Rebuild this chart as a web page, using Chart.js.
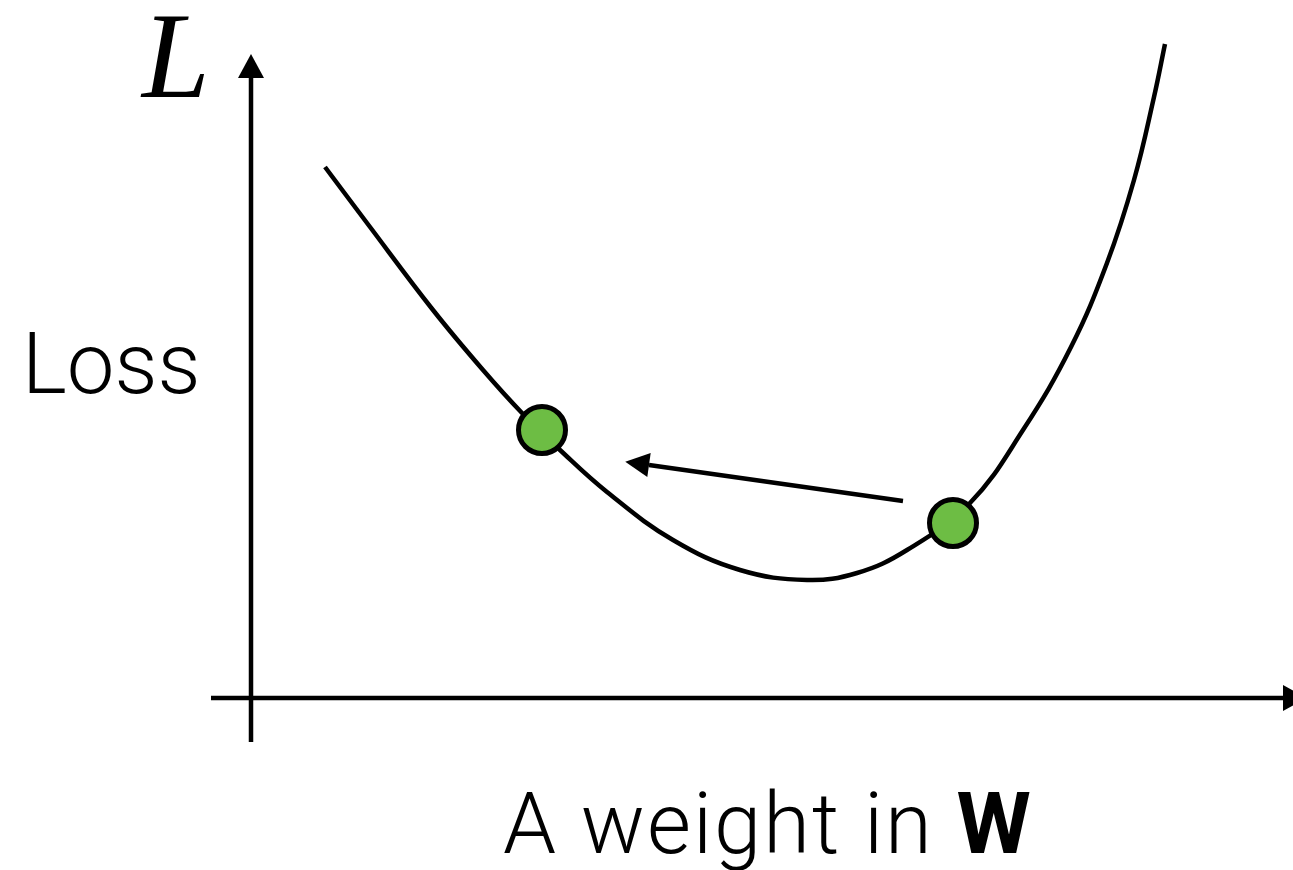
<!DOCTYPE html>
<html>
<head>
<meta charset="utf-8">
<script src="https://cdn.jsdelivr.net/npm/chart.js@4"></script>
<style>
  html, body { margin: 0; padding: 0; background: #fff; overflow: hidden; }
</style>
</head>
<body>
<canvas id="grafica_perdida" width="1293" height="870"></canvas>
<script>
//Datos (unidades arbitrarias, origen en el cruce de ejes)
const pesoX    = [0.74, 1.16, 1.82, 2.32, 2.71, 3.09, 3.56, 4.22, 4.89, 5.56, 6.06, 6.56, 7.19, 7.72, 8.20, 8.56, 8.83, 9.03, 9.14];
const perdidaY = [5.31, 4.75, 3.88, 3.28, 2.85, 2.48, 2.06, 1.58, 1.28, 1.18, 1.25, 1.48, 1.95, 2.68, 3.51, 4.35, 5.18, 6.01, 6.54];

//Los dos puntos verdes
const puntosX = [2.91, 7.02];
const puntosY = [2.68, 1.75];

//Flecha del paso (de derecha a izquierda, termina en la base de la punta)
const flechaX = [6.52, 3.98];
const flechaY = [1.97, 2.33];

//Ejes
const ejeHorizX = [-0.40, 10.32];
const ejeVertY  = [-0.44, 6.20];

const textoY = 'Loss';
const textoL = 'L';
const textoX = 'A weight in ';
const textoW = 'W';

const aPuntos = (xs, ys) => xs.map((x, i) => ({ x: x, y: ys[i] }));

//Plugin para puntas de flecha y textos
const puntasYTextos = {
  id: 'puntasYTextos',
  afterDatasetsDraw(chart) {
    const ctx = chart.ctx;
    chart.data.datasets.forEach((ds, i) => {
      if (!ds.punta) return;
      const pts = chart.getDatasetMeta(i).data;
      const a = pts[pts.length - 2], b = pts[pts.length - 1];
      const ang = Math.atan2(b.y - a.y, b.x - a.x);
      const largo = ds.punta.largo, ancho = ds.punta.ancho;
      ctx.save();
      ctx.translate(b.x, b.y);
      ctx.rotate(ang);
      ctx.beginPath();
      ctx.moveTo(largo, 0);
      ctx.lineTo(0, -ancho);
      ctx.lineTo(0, ancho);
      ctx.closePath();
      ctx.fillStyle = '#000';
      ctx.fill();
      ctx.restore();
    });

    const xs = chart.scales.x, ys = chart.scales.y;
    ctx.save();
    ctx.fillStyle = '#000';
    ctx.textBaseline = 'alphabetic';
    ctx.textAlign = 'left';

    ctx.font = 'italic 122px "Liberation Serif", "DejaVu Serif", serif';
    ctx.fillText(textoL, xs.getPixelForValue(-1.09), ys.getPixelForValue(6.01));

    ctx.font = '300 85px Roboto, "Liberation Sans", sans-serif';
    ctx.fillText(textoY, xs.getPixelForValue(-2.29), ys.getPixelForValue(3.05));

    const baseX = xs.getPixelForValue(2.52), baseY = ys.getPixelForValue(-1.55);
    ctx.letterSpacing = '2px';
    ctx.fillText(textoX, baseX, baseY);
    const w = ctx.measureText(textoX).width;
    ctx.letterSpacing = '0px';
    ctx.font = 'bold 85px Roboto, "Liberation Sans", sans-serif';
    ctx.fillText(textoW, baseX + w, baseY);
    ctx.restore();
  }
};

const grafica = document.getElementById('grafica_perdida');

let grafica_perdida_OBJ = new Chart(grafica, {
  type: 'line',
  data: {
    datasets: [{
      label: 'puntos',
      data: aPuntos(puntosX, puntosY),
      showLine: false,
      pointRadius: 23.5,
      pointBackgroundColor: '#6dbd44',
      pointBorderColor: '#000',
      pointBorderWidth: 5,
      order: 0
    }, {
      label: 'perdida',
      data: aPuntos(pesoX, perdidaY),
      borderColor: '#000',
      borderWidth: 4.5,
      pointRadius: 0,
      tension: 0.4,
      fill: false,
      order: 1
    }, {
      label: 'flecha',
      data: aPuntos(flechaX, flechaY),
      borderColor: '#000',
      borderWidth: 4.5,
      pointRadius: 0,
      punta: { largo: 24, ancho: 12 },
      order: 2
    }, {
      label: 'eje x',
      data: aPuntos(ejeHorizX, [0, 0]),
      borderColor: '#000',
      borderWidth: 4.5,
      pointRadius: 0,
      punta: { largo: 24, ancho: 13 },
      order: 3
    }, {
      label: 'eje y',
      data: aPuntos([0, 0], ejeVertY),
      borderColor: '#000',
      borderWidth: 4.5,
      pointRadius: 0,
      punta: { largo: 24, ancho: 13 },
      order: 3
    }]
  },
  options: {
    responsive: false,
    animation: false,
    clip: false,
    layout: { padding: 0, autoPadding: false },
    plugins: {
      legend: { display: false },
      tooltip: { enabled: false }
    },
    scales: {
      x: { type: 'linear', min: -2.51, max: 10.42, display: false },
      y: { type: 'linear', min: -1.72, max: 6.98, display: false }
    }
  },
  plugins: [puntasYTextos]
});
</script>
</body>
</html>
